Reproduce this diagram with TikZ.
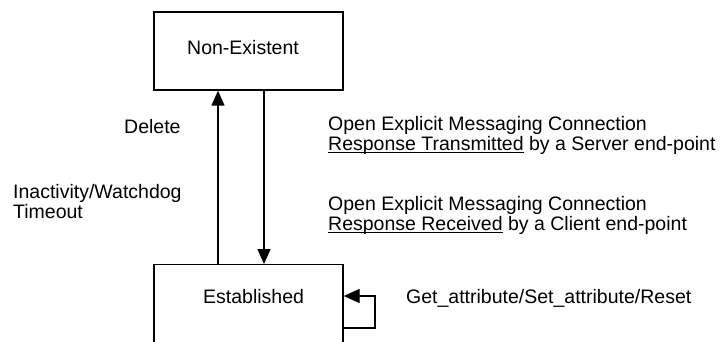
\documentclass[tikz,border=0pt]{standalone}
\usepackage{fontspec}
\setmainfont{Liberation Sans}
\usetikzlibrary{arrows.meta}
% underline sitting just under the baseline
\newcommand\undl[1]{\setbox0\hbox{#1}\rlap{\rule[-2.8pt]{\wd0}{1.2pt}}\box0\relax}
\begin{document}
\begin{tikzpicture}[x=1pt,y=-1pt,
  statebox/.style={draw,line width=1.3pt,inner sep=0pt,minimum width=189pt},
  lbl/.style={inner sep=0pt,anchor=base west,font=\fontsize{19.5}{21}\selectfont},
  arr/.style={line width=1.3pt,-{Triangle[length=15pt,width=13pt]}},
  looparr/.style={line width=1.3pt,-{Triangle[length=16pt,width=14pt]}}]
\useasboundingbox (0,0) rectangle (722,342);
\clip (0,0) rectangle (722,342);

% states
\node[statebox,minimum height=78pt] (ne) at (248.5,51) {};
\node[lbl] (nelbl) at (187,55) {Non-Existent};
\node[statebox,minimum height=156pt,anchor=north] (est) at (248.5,264) {};
\node[lbl] (estlbl) at (203,303) {Established};

% connector positions
\coordinate (xup) at (218,0);
\coordinate (xdn) at (264,0);
\coordinate (lr) at (375,0);
\coordinate (lt) at (0,296);
\coordinate (lb) at (0,328);

% transitions
\draw[arr] (est.north -| xup) -- (ne.south -| xup);
\draw[arr] (ne.south -| xdn) -- (est.north -| xdn);
\draw[looparr] (est.east |- lb) -- (lr |- lb) -- (lr |- lt) -- (est.east |- lt);

% transition labels
\node[lbl] (tdel) at (124,133) {Delete};
\node[lbl] (tina) at (13,198) {Inactivity/Watchdog};
\node[lbl] (ttmo) at (13,218) {Timeout};

\node[lbl] (ts1) at (328,131) {Open Explicit Messaging Connection};
\node[lbl] (ts2) at (328,150) {\undl{Response Transmitted} by a Server end-point};
\node[lbl] (tc1) at (328,210) {Open Explicit Messaging Connection};
\node[lbl] (tc2) at (328,230) {\undl{Response Received} by a Client end-point};

\node[lbl] (tget) at (406,303) {Get\_attribute/Set\_attribute/Reset};
\end{tikzpicture}
\end{document}
